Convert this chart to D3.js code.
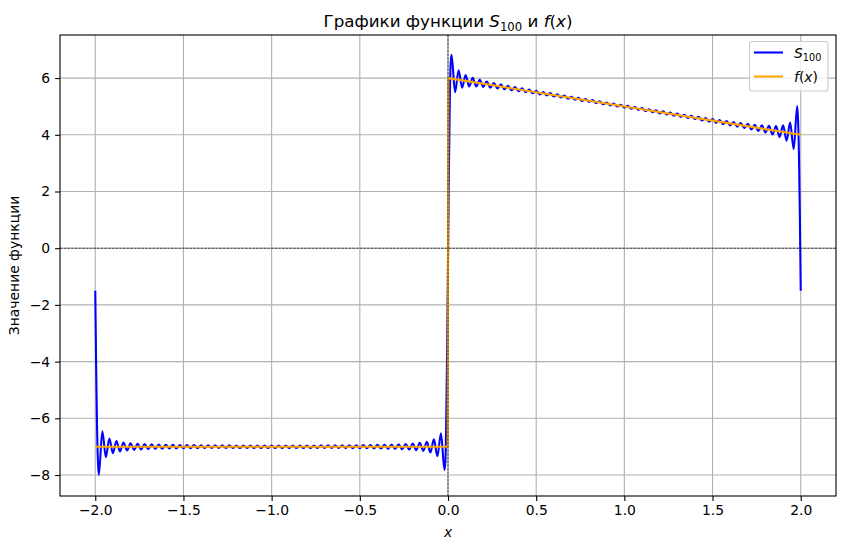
<!DOCTYPE html>
<html><head><meta charset="utf-8">
<script src="https://cdn.jsdelivr.net/npm/d3@7"></script>
<style>body{margin:0;background:#fff}svg{display:block}text{font-family:"DejaVu Sans",sans-serif;white-space:pre}</style>
</head><body><svg id="c" width="844" height="549"></svg>
<script>
// ---- data ----
const xTicks = [-2.0, -1.5, -1.0, -0.5, 0.0, 0.5, 1.0, 1.5, 2.0];
const yTicks = [-8, -6, -4, -2, 0, 2, 4, 6];
const seriesNames = ["S100", "f(x)"];

// f(x)
const fX = [-2, -0.002, 0.002, 2];
const fY = [-7, -7, 5.998, 4];

// S_100 partial sum (extrema and steep parts)
const s100X = [
  -2, -1.995, -1.99, -1.985,
  -1.98,-1.96,-1.94,-1.92,-1.90,-1.88,-1.86,-1.84,-1.82,-1.80,
  -1.78,-1.76,-1.74,-1.72,-1.70,-1.68,-1.66,-1.64,-1.62,-1.60,
  -1.58,-1.56,-1.54,-1.52,-1.50,-1.48,-1.46,-1.44,-1.42,-1.40,
  -1.38,-1.36,-1.34,-1.32,-1.30,-1.28,-1.26,-1.24,-1.22,-1.20,
  -1.18,-1.16,-1.14,-1.12,-1.10,-1.08,-1.06,-1.04,-1.02,-1.00,
  -0.98,-0.96,-0.94,-0.92,-0.90,-0.88,-0.86,-0.84,-0.82,-0.80,
  -0.78,-0.76,-0.74,-0.72,-0.70,-0.68,-0.66,-0.64,-0.62,-0.60,
  -0.58,-0.56,-0.54,-0.52,-0.50,-0.48,-0.46,-0.44,-0.42,-0.40,
  -0.38,-0.36,-0.34,-0.32,-0.30,-0.28,-0.26,-0.24,-0.22,-0.20,
  -0.18,-0.16,-0.14,-0.12,-0.10,-0.08,-0.06,-0.04,-0.02,
  -0.015, -0.01, -0.005, 0, 0.005, 0.01, 0.015,
  0.02,0.04,0.06,0.08,0.10,0.12,0.14,0.16,0.18,0.20,
  0.22,0.24,0.26,0.28,0.30,0.32,0.34,0.36,0.38,0.40,
  0.42,0.44,0.46,0.48,0.50,0.52,0.54,0.56,0.58,0.60,
  0.62,0.64,0.66,0.68,0.70,0.72,0.74,0.76,0.78,0.80,
  0.82,0.84,0.86,0.88,0.90,0.92,0.94,0.96,0.98,1.00,
  1.02,1.04,1.06,1.08,1.10,1.12,1.14,1.16,1.18,1.20,
  1.22,1.24,1.26,1.28,1.30,1.32,1.34,1.36,1.38,1.40,
  1.42,1.44,1.46,1.48,1.50,1.52,1.54,1.56,1.58,1.60,
  1.62,1.64,1.66,1.68,1.70,1.72,1.74,1.76,1.78,1.80,
  1.82,1.84,1.86,1.88,1.90,1.92,1.94,1.96,1.98,
  1.985, 1.99, 1.995, 2
];
const s100Y = [
  -1.5, -4.2, -6.3, -7.5,
  -7.995,-6.455,-7.374,-6.715,-7.231,-6.804,-7.169,-6.850,-7.134,-6.878,
  -7.112,-6.896,-7.097,-6.909,-7.086,-6.918,-7.078,-6.926,-7.071,-6.932,
  -7.066,-6.936,-7.061,-6.941,-7.058,-6.944,-7.055,-6.946,-7.052,-6.949,
  -7.050,-6.951,-7.049,-6.952,-7.047,-6.954,-7.046,-6.955,-7.045,-6.956,
  -7.044,-6.956,-7.043,-6.957,-7.043,-6.958,-7.042,-6.958,-7.042,-6.958,
  -7.042,-6.958,-7.042,-6.958,-7.042,-6.958,-7.043,-6.957,-7.043,-6.957,
  -7.044,-6.956,-7.044,-6.955,-7.045,-6.954,-7.047,-6.953,-7.048,-6.951,
  -7.050,-6.949,-7.052,-6.947,-7.054,-6.944,-7.057,-6.941,-7.061,-6.937,
  -7.066,-6.931,-7.071,-6.925,-7.079,-6.916,-7.089,-6.905,-7.102,-6.890,
  -7.121,-6.865,-7.152,-6.824,-7.208,-6.744,-7.334,-6.530,-7.820,
  -7.55, -6.1, -3.6, -0.5, 2.6, 5.1, 6.5,
  6.820,5.500,6.274,5.664,6.108,5.704,6.012,5.705,5.941,5.690,
  5.882,5.665,5.829,5.636,5.779,5.605,5.731,5.571,5.686,5.537,
  5.641,5.501,5.597,5.464,5.554,5.427,5.512,5.389,5.470,5.351,
  5.428,5.313,5.387,5.274,5.345,5.235,5.304,5.196,5.264,5.157,
  5.223,5.117,5.183,5.078,5.142,5.038,5.102,4.998,5.062,4.958,
  5.022,4.918,4.982,4.878,4.943,4.837,4.903,4.796,4.864,4.756,
  4.825,4.715,4.786,4.674,4.747,4.632,4.709,4.591,4.670,4.549,
  4.632,4.506,4.595,4.464,4.558,4.421,4.521,4.376,4.486,4.332,
  4.451,4.286,4.418,4.238,4.386,4.189,4.357,4.136,4.332,4.078,
  4.314,4.010,4.309,3.924,4.331,3.795,4.434,3.495,5.015,
  4.5, 3.3, 1.2, -1.5
];

// ---- layout ----
const M = {l: 60, r: 836, t: 35, b: 496};
const FS = 13.9;
const svg = d3.select('#c');
const x = d3.scaleLinear().domain([-2.2, 2.2]).range([M.l, M.r]);
const y = d3.scaleLinear().domain([-8.74, 7.52]).range([M.b, M.t]);
const minus = s => s.replace('-', '\u2212');

svg.append('defs').append('clipPath').attr('id', 'clip')
  .append('rect').attr('x', M.l).attr('y', M.t).attr('width', M.r - M.l).attr('height', M.b - M.t);

// grid
const grid = svg.append('g').attr('stroke', '#b0b0b0').attr('stroke-width', 1.1);
grid.selectAll('.gx').data(xTicks).join('line')
  .attr('x1', d => x(d)).attr('x2', d => x(d)).attr('y1', M.t).attr('y2', M.b);
grid.selectAll('.gy').data(yTicks).join('line')
  .attr('y1', d => y(d)).attr('y2', d => y(d)).attr('x1', M.l).attr('x2', M.r);

const plot = svg.append('g').attr('clip-path', 'url(#clip)');
const idxS = d3.range(s100X.length);
const idxF = d3.range(fX.length);
plot.append('path')
  .attr('d', d3.line().x(i => x(s100X[i])).y(i => y(s100Y[i])).curve(d3.curveMonotoneX)(idxS))
  .attr('fill', 'none').attr('stroke', '#0000ff').attr('stroke-width', 2.08).attr('stroke-linejoin', 'round');
plot.append('path')
  .attr('d', d3.line().x(i => x(fX[i])).y(i => y(fY[i]))(idxF))
  .attr('fill', 'none').attr('stroke', '#ffa500').attr('stroke-width', 2.08).attr('stroke-linejoin', 'round');

// zero lines (dashed)
plot.append('line').attr('x1', M.l).attr('x2', M.r).attr('y1', y(0)).attr('y2', y(0))
  .attr('stroke', '#000').attr('stroke-width', 0.7).attr('stroke-dasharray', '2.6,1.1');
plot.append('line').attr('y1', M.t).attr('y2', M.b).attr('x1', x(0)).attr('x2', x(0))
  .attr('stroke', '#000').attr('stroke-width', 0.7).attr('stroke-dasharray', '2.6,1.1');

// axes
const ax = svg.append('g').attr('transform', `translate(0,${M.b})`)
  .call(d3.axisBottom(x).tickValues(xTicks).tickFormat(d => minus(d.toFixed(1))).tickSize(4.9).tickPadding(4.6));
const ay = svg.append('g').attr('transform', `translate(${M.l},0)`)
  .call(d3.axisLeft(y).tickValues(yTicks).tickFormat(d => minus(String(d))).tickSize(4.9).tickPadding(4.9));
[ax, ay].forEach(a => {
  a.select('.domain').remove();
  a.selectAll('line').attr('stroke', '#000').attr('stroke-width', 1.1);
  a.selectAll('text').attr('font-size', FS).attr('font-family', '"DejaVu Sans", sans-serif').attr('fill', '#000');
});

// frame
svg.append('rect').attr('x', M.l).attr('y', M.t).attr('width', M.r - M.l).attr('height', M.b - M.t)
  .attr('fill', 'none').attr('stroke', '#000').attr('stroke-width', 1.1);

// title
const t = svg.append('text').attr('x', (M.l + M.r) / 2).attr('y', 27).attr('text-anchor', 'middle').attr('font-size', 16.7);
t.append('tspan').text('Графики функции ');
t.append('tspan').attr('font-style', 'italic').text('S');
t.append('tspan').attr('font-size', 11.7).attr('dy', 4).text('100');
t.append('tspan').attr('dy', -4).text(' и ');
t.append('tspan').attr('font-style', 'italic').text('f');
t.append('tspan').text('(');
t.append('tspan').attr('font-style', 'italic').text('x');
t.append('tspan').text(')');

// axis labels
svg.append('text').attr('x', (M.l + M.r) / 2).attr('y', 536.5).attr('text-anchor', 'middle')
  .attr('font-size', FS).attr('font-style', 'italic').text('x');
svg.append('text').attr('transform', `translate(19,${(M.t + M.b) / 2}) rotate(-90)`).attr('text-anchor', 'middle')
  .attr('font-size', FS).text('Значение функции');

// legend
const lg = svg.append('g');
lg.append('rect').attr('x', 749.5).attr('y', 41.5).attr('width', 78.5).attr('height', 49.5).attr('rx', 2.8)
  .attr('fill', '#fff').attr('fill-opacity', 0.8).attr('stroke', '#cccccc').attr('stroke-width', 1.1);
const legColors = ['#0000ff', '#ffa500'];
const legY = [52.5, 76.5];
seriesNames.forEach((n, i) => {
  lg.append('line').attr('x1', 754).attr('x2', 783).attr('y1', legY[i]).attr('y2', legY[i])
    .attr('stroke', legColors[i]).attr('stroke-width', 2.08);
});
const l1 = lg.append('text').attr('x', 794).attr('y', legY[0] + 5).attr('font-size', FS);
l1.append('tspan').attr('font-style', 'italic').text('S');
l1.append('tspan').attr('font-size', 9.7).attr('dy', 3.2).text('100');
const l2 = lg.append('text').attr('x', 794).attr('y', legY[1] + 5).attr('font-size', FS);
l2.append('tspan').attr('font-style', 'italic').text('f');
l2.append('tspan').text('(');
l2.append('tspan').attr('font-style', 'italic').text('x');
l2.append('tspan').text(')');
</script></body></html>
